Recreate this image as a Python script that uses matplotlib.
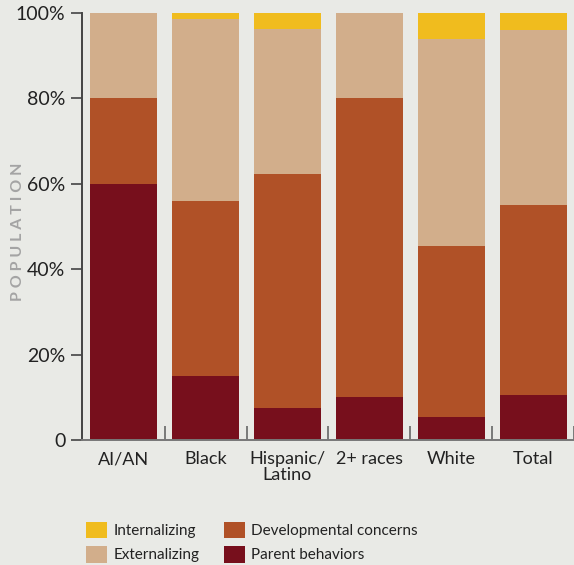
import numpy as np
import matplotlib.pyplot as plt

plt.rcParams['font.family'] = ['Lato', 'DejaVu Sans']

groups = ['AI/AN', 'Black', 'Hispanic/\nLatino', '2+ races', 'White', 'Total']
parent = [60, 15, 7.5, 10, 5.5, 10.5]
developmental = [20, 41, 54.8, 70, 40, 44.5]
externalizing = [20, 42.5, 34, 20, 48.5, 41]
internalizing = [0, 1.5, 3.7, 0, 6, 4]

series = [
    ('Parent behaviors', parent, '#770F1C'),
    ('Developmental concerns', developmental, '#B05127'),
    ('Externalizing', externalizing, '#D2AE8B'),
    ('Internalizing', internalizing, '#F0BC1E'),
]

bg = '#E9EAE6'
fig = plt.figure(figsize=(5.74, 5.65), dpi=100, facecolor=bg)
ax = fig.add_axes([82/574, 1-440/565, 1-82/574, (440-13)/565], facecolor=bg)

x = np.arange(len(groups))
bottom = np.zeros(len(groups))
bars = {}
for name, vals, col in series:
    bars[name] = ax.bar(x, vals, width=0.82, bottom=bottom, color=col,
                        edgecolor='none', label=name)
    bottom += np.array(vals)

ax.set_xlim(-0.51, 5.49)
ax.set_ylim(0, 100)
ax.set_yticks([0, 20, 40, 60, 80, 100])
ax.set_yticklabels(['0', '20%', '40%', '60%', '80%', '100%'], fontsize=14, color='#222222')
ax.set_xticks(x)
ax.set_xticklabels(groups, fontsize=13, color='#222222', linespacing=1.0)
ax.tick_params(axis='x', length=0, pad=8)
ax.tick_params(axis='y', length=8, width=1.2, color='#444444', pad=4)

# small inward separators on the baseline
ax.set_xticks(x + 0.5, minor=True)
ax.tick_params(axis='x', which='minor', direction='in', length=10, width=1.2, color='#666666')

for s in ['top', 'right']:
    ax.spines[s].set_visible(False)
ax.spines['left'].set_color('#444444')
ax.spines['left'].set_linewidth(1.4)
ax.spines['bottom'].set_color('#777777')
ax.spines['bottom'].set_linewidth(1.4)

fig.text(18/574, 1-232/565, 'P O P U L A T I O N', rotation=90, ha='center', va='center',
         fontsize=11.5, fontweight='bold', color='#A4A4A4')

handles = [bars['Internalizing'], bars['Externalizing'],
           bars['Developmental concerns'], bars['Parent behaviors']]
labels = ['Internalizing', 'Externalizing', 'Developmental concerns', 'Parent behaviors']
fig.legend(handles, labels, ncol=2, loc='upper left', bbox_to_anchor=(72/574, 1-508/565),
           frameon=False, fontsize=11, handlelength=1.4, handleheight=1.3,
           columnspacing=1.6, handletextpad=0.4, labelspacing=0.5, labelcolor='#222222')

fig.savefig('out.png', dpi=100, facecolor=bg)
